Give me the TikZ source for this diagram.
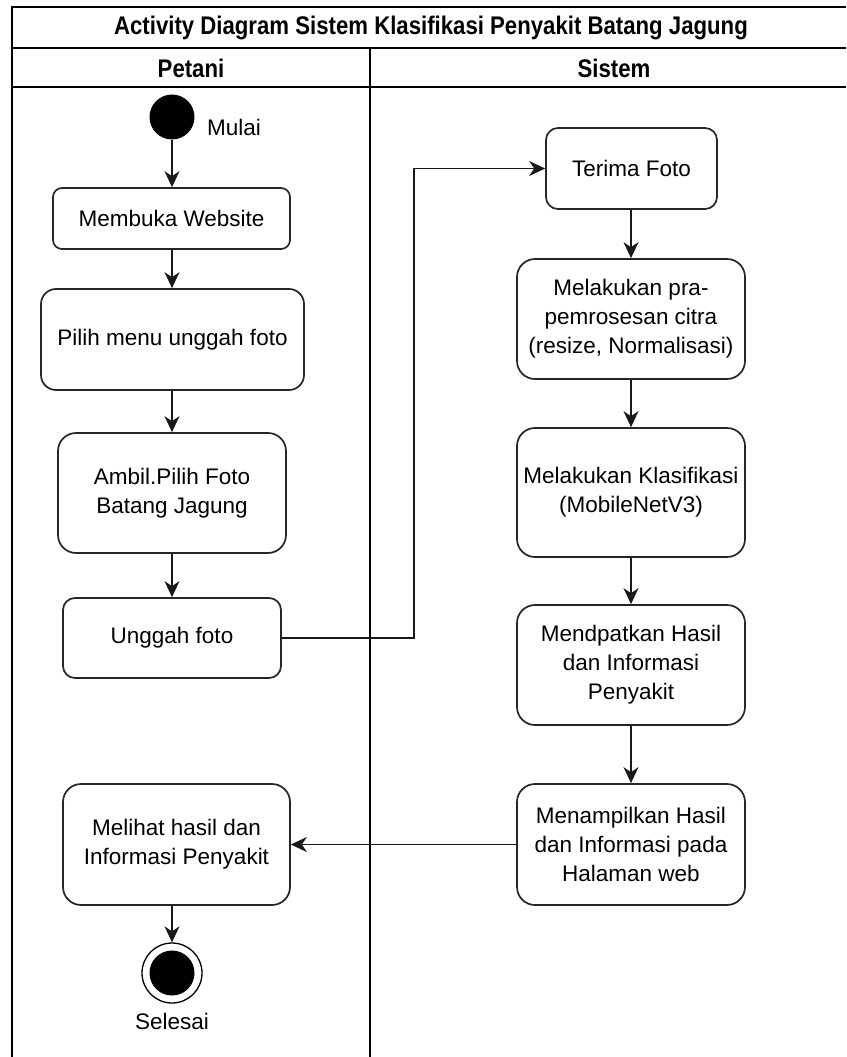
\documentclass[tikz,border=0pt]{standalone}
\usepackage{fontspec}
\setmainfont{Liberation Sans}
\newfontfamily\hdrfont[FakeStretch=0.87]{Liberation Sans}
\usetikzlibrary{arrows.meta,positioning,calc}
\tikzset{
  act/.style={draw=black!85, line width=1.7pt, fill=white, align=center,
    inner sep=2pt, font=\fontsize{22.5}{29}\selectfont, text=black},
  arr/.style={draw=black!90, line width=1.6pt,
    -{Stealth[length=16pt,width=15pt,inset=5pt]}},
  lane/.style={draw=black, line width=1.8pt},
  hdr/.style={font=\hdrfont\bfseries\fontsize{25.5}{28}\selectfont, text=black},
  lbl/.style={font=\fontsize{22.5}{26}\selectfont, text=black}
}
\begin{document}
\begin{tikzpicture}[x=1pt,y=-1pt]
\useasboundingbox (0,0) rectangle (846,1057);
% frame
\draw[lane] (846,7) -- (12,7) -- (12,1057);
\draw[lane] (12,48) -- (846,48);
\draw[lane] (12,87) -- (846,87);
\draw[lane] (370,48) -- (370,1057);
\node[hdr] (title) at (431,28) {Activity Diagram Sistem Klasifikasi Penyakit Batang Jagung};
\node[hdr] (petani) at (191,68) {Petani};
\node[hdr] (sistem) at (614,68) {Sistem};
% start
\node[circle, fill=black, minimum size=45pt, inner sep=0pt] (start) at (172,117) {};
\node[lbl] (mulai) at (234,127) {Mulai};
% left lane
\node[act, rounded corners=9pt, minimum width=237pt, minimum height=61pt] (memb) at (171.5,218.5) {Membuka Website};
\node[act, rounded corners=15pt, minimum width=263pt, minimum height=101pt] (pilih) at (172.5,339.5) {Pilih menu unggah foto};
\node[act, rounded corners=18pt, minimum width=228pt, minimum height=120pt] (ambil) at (172,493) {Ambil.Pilih Foto\\Batang Jagung};
\node[act, rounded corners=12pt, minimum width=218pt, minimum height=80pt] (unggah) at (172,638) {Unggah foto};
\node[act, rounded corners=18pt, minimum width=227pt, minimum height=121pt] (melihat) at (176.5,844.5) {Melihat hasil dan\\Informasi Penyakit};
% end
\node[circle, draw=black, line width=1.3pt, fill=white, minimum size=60pt, inner sep=0pt] (end) at (172,973) {};
\node[circle, fill=black, minimum size=45pt, inner sep=0pt] (endin) at (end.center) {};
\node[lbl] (selesai) at (172,1021) {Selesai};
% right lane
\node[act, rounded corners=12pt, minimum width=171pt, minimum height=81pt] (terima) at (631.5,168.5) {Terima Foto};
\node[act, rounded corners=18pt, minimum width=228pt, minimum height=120pt] (pra) at (631,319) {Melakukan pra-\\pemrosesan citra\\(resize, Normalisasi)};
\node[act, rounded corners=18pt, minimum width=228pt, minimum height=129pt] (klas) at (631,492.5) {Melakukan Klasifikasi\\(MobileNetV3)};
\node[act, rounded corners=18pt, minimum width=228pt, minimum height=120pt] (mend) at (631,665) {Mendpatkan Hasil\\dan Informasi\\Penyakit};
\node[act, rounded corners=18pt, minimum width=228pt, minimum height=121pt] (menam) at (631,844.5) {Menampilkan Hasil\\dan Informasi pada\\Halaman web};
% connectors
\draw[arr] (start) -- (start |- memb.north);
\draw[arr] (start |- memb.south) -- (start |- pilih.north);
\draw[arr] (start |- pilih.south) -- (start |- ambil.north);
\draw[arr] (start |- ambil.south) -- (start |- unggah.north);
\draw[arr] (unggah.east) -- ++(132,0) |- (terima.west);
\draw[arr] (pra |- terima.south) -- (pra.north);
\draw[arr] (pra.south) -- (klas.north);
\draw[arr] (klas.south) -- (mend.north);
\draw[arr] (mend.south) -- (menam.north);
\draw[arr] (menam.west) -- (melihat.east);
\draw[arr] (end |- melihat.south) -- (end.north);
\end{tikzpicture}
\end{document}
